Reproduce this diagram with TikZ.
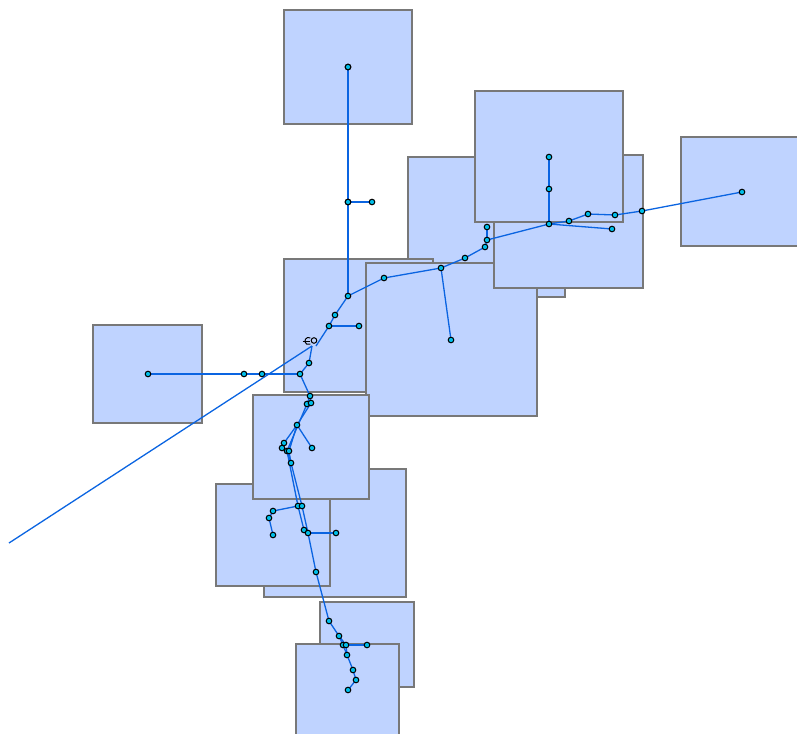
\documentclass[tikz,border=0pt]{standalone}
\usetikzlibrary{calc}
\definecolor{boxfill}{RGB}{191,211,255}
\definecolor{boxline}{RGB}{120,120,120}
\definecolor{wire}{RGB}{10,100,225}
\definecolor{dotfill}{RGB}{0,190,232}
\tikzset{
  box/.style={fill=boxfill,draw=boxline,line width=1.1pt},
  vtx/.style={circle,draw=black,fill=dotfill,line width=1pt,inner sep=0pt,minimum size=5.6pt},
  wireline/.style={draw=wire,line width=1.3pt},
}
\begin{document}
\begin{tikzpicture}[x=1pt,y=-1pt]
\useasboundingbox (0,0) rectangle (797,733);
% background boxes, back to front
\draw[box] (284,10) rectangle (412,124);
\draw[box] (93,325) rectangle (202,423);
\draw[box] (681,137) rectangle (806,246);
\draw[box] (408,157) rectangle (565,297);
\draw[box] (284,259) rectangle (433,392);
\draw[box] (366,263) rectangle (537,416);
\draw[box] (494,155) rectangle (643,288);
\draw[box] (475,91) rectangle (623,222);
\draw[box] (264,469) rectangle (406,597);
\draw[box] (216,484) rectangle (330,586);
\draw[box] (253,395) rectangle (369,499);
\draw[box] (320,602) rectangle (414,687);
\draw[box] (296,644) rectangle (399,740);

% vertex positions
\foreach \n/\x/\y in {
  a/348/67, b/348/202, c/372/202, d/348/296, e/384/278, f/441/268,
  g/465/258, h/485/247, i/487/240, j/487/227, k/549/224, ka/549/189,
  kb/549/157, l/569/221, m/588/214, n/615/215, o/642/211, p/742/192,
  q/612/229, r/451/340, s/335/315, t/329/326, u/359/326, va/312/346,
  vb/316/346, w/309/363, x/300/374, ya/262/374, yb/244/374, yc/148/374,
  z/310/396, za/307/404, zb/311/403, aa/297/425, ab/312/448, ac/284/443,
  ad/282/448, ae/287/451, af/289/451, ag/291/463, ah/298/506, ai/302/506,
  aj/273/511, ak/269/518, al/273/535, am/304/530, an/308/533, ao/336/533,
  ap/316/572, aq/329/621, ar/339/636, as/343/645, at/346/645, au/367/645,
  av/347/655, aw/353/670, ax/356/680, ay/348/690}
  {\coordinate (\n) at (\x,\y);}
\coordinate (tail) at (9,543);

% connectors
\foreach \p/\q in {
  a/b, b/d, b/c, d/e, e/f, f/g, g/h, h/i, i/j, i/k, k/ka, ka/kb,
  k/l, l/m, m/n, n/o, o/p, k/q, f/r, d/s, s/t, t/u, t/vb, va/w, w/x,
  x/ya, ya/yb, yb/yc, va/tail, x/z, z/za, z/zb, zb/aa, aa/ab, aa/ac,
  ac/ad, za/ae, aa/af, af/ag, ae/ag, ae/ah, ag/ai, ah/aj, aj/ak, ak/al,
  ah/am, ai/an, am/an, an/ao, an/ap, ap/aq, aq/ar, ar/as, ar/at, at/au,
  as/av, at/av, av/aw, aw/ax, ax/ay}
  {\draw[wireline] (\p) -- (\q);}

% the small glyph mark at the junction
\draw[black,line width=1pt] (310.3,337.9) arc[start angle=-60,end angle=-300,radius=3.6];
\draw[black,line width=1pt] (302.5,341) -- (309.5,341);
\draw[black,line width=1pt] (314,340.5) circle[radius=2.8];

\foreach \n in {a,b,c,d,e,f,g,h,i,j,k,ka,kb,l,m,n,o,p,q,r,s,t,u,va,vb,w,x,
  ya,yb,yc,z,za,zb,aa,ab,ac,ad,ae,af,ag,ah,ai,aj,ak,al,am,an,ao,ap,aq,ar,
  as,at,au,av,aw,ax,ay}
  {\node[vtx] (v\n) at (\n) {};}
\end{tikzpicture}
\end{document}
